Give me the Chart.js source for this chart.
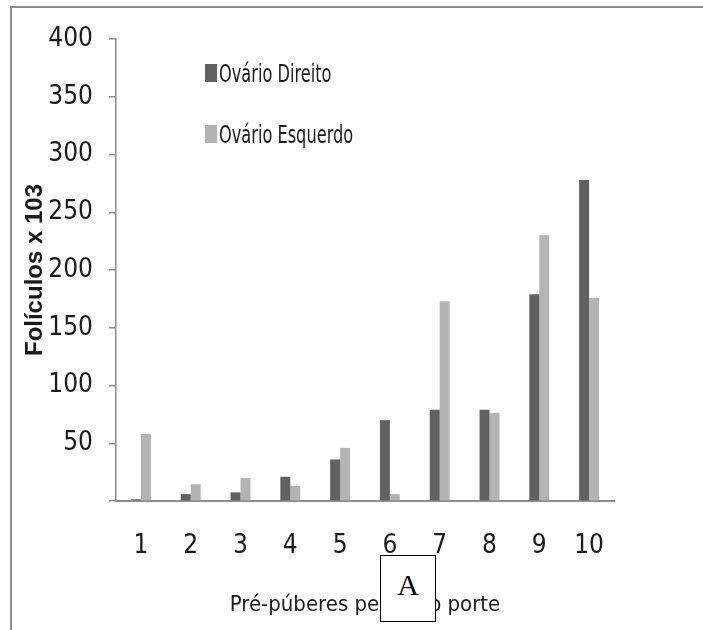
<!DOCTYPE html>
<html>
<head>
  <title>Folículos - Pré-púberes pequeno porte</title>
  <script src="https://cdn.jsdelivr.net/npm/chart.js"></script>
  <style>
    body { margin: 0; background: #fff; }
    #wrap { position: relative; width: 703px; height: 630px; overflow: hidden; }
    #moldura { position: absolute; left: 10px; top: 6px; width: 700px; height: 630px;
      border-top: 2px solid #8c8c8c; border-left: 2px solid #8c8c8c; }
    #legenda { position: absolute; left: 205px; top: 58px; }
    .item { display: flex; align-items: center; height: 30px; margin-bottom: 31px;
      font-family: 'Liberation Sans Narrow', 'DejaVu Sans Condensed', 'Liberation Sans', sans-serif;
      font-size: 25px; color: #1a1a1a; }
    .item span.cor { width: 12px; height: 18px; margin-right: 2px; }
    .item span.txt { display: inline-block; transform: scaleX(0.72); transform-origin: left center; }
    #caixaA { position: absolute; left: 380px; top: 555px; width: 54px; height: 65px;
      border: 1.5px solid #000; background: #fff; font-family: 'Liberation Serif', serif;
      font-size: 30px; text-align: center; line-height: 58px; }
  </style>
</head>
<body>
<div id="wrap">
  <canvas id="grafico" width="703" height="630"></canvas>
  <div id="moldura"></div>
  <div id="legenda"></div>
  <div id="caixaA">A</div>
</div>

<script>
  // dados (folículos x 10^3)
  let categorias = ["1", "2", "3", "4", "5", "6", "7", "8", "9", "10"];
  let ovarioDireito = [1.5, 6, 7.5, 21, 36, 70, 79, 79, 179, 278];
  let ovarioEsquerdo = [58, 14.5, 20, 13, 46, 6, 173, 76.5, 230, 176];
  let yMin = 0;
  let yMax = 400;
  let yPasso = 50;

  let fonteNarrow = "'Liberation Sans Narrow', 'DejaVu Sans Condensed', 'Liberation Sans', sans-serif";
  let cinzaEixo = "#8c8c8c";

  let grafico = new Chart(document.getElementById("grafico"), {
    type: "bar",
    data: {
      labels: categorias,
      datasets: [
        { label: "Ovário Direito", data: ovarioDireito, backgroundColor: "#616161" },
        { label: "Ovário Esquerdo", data: ovarioEsquerdo, backgroundColor: "#b4b4b4" }
      ]
    },
    options: {
      responsive: false,
      animation: false,
      layout: { padding: { left: 0, right: 89, top: 39, bottom: 0 } },
      datasets: { bar: { categoryPercentage: 0.4, barPercentage: 1.0 } },
      plugins: { legend: { display: false }, tooltip: { enabled: false } },
      scales: {
        x: {
          grid: { display: false, drawTicks: false, tickLength: 0 },
          border: { color: cinzaEixo, width: 2 },
          ticks: { font: { family: fonteNarrow, size: 26 }, color: "#1a1a1a", padding: 30, maxRotation: 0 },
          title: {
            display: true,
            text: "Pré-púberes pequeno porte",
            font: { family: fonteNarrow, size: 22 },
            color: "#1a1a1a",
            padding: { top: 0, bottom: 12 }
          },
          afterFit: function(scale) { scale.height = 129; }
        },
        y: {
          min: yMin,
          max: yMax,
          grid: { drawOnChartArea: false, tickLength: 7, color: cinzaEixo, lineWidth: 1.5 },
          border: { color: cinzaEixo, width: 1.5 },
          ticks: {
            stepSize: yPasso,
            padding: 16,
            color: "#1a1a1a",
            font: { family: fonteNarrow, size: 26 },
            callback: function(v) { return v === 0 ? "" : v; }
          },
          title: {
            display: true,
            text: "Folículos x 103",
            font: { family: "'Liberation Sans', Arial, sans-serif", size: 24, weight: "bold" },
            color: "#1a1a1a",
            padding: { top: 21, bottom: 0 }
          },
          afterFit: function(scale) { scale.width = 116; }
        }
      }
    }
  });

  // legenda dentro da área do gráfico, gerada a partir dos datasets
  let legenda = document.getElementById("legenda");
  grafico.data.datasets.forEach(function(ds) {
    let item = document.createElement("div");
    item.className = "item";
    let cor = document.createElement("span");
    cor.className = "cor";
    cor.style.background = ds.backgroundColor;
    let texto = document.createElement("span");
    texto.className = "txt";
    texto.textContent = ds.label;
    item.appendChild(cor);
    item.appendChild(texto);
    legenda.appendChild(item);
  });
</script>
</body>
</html>
